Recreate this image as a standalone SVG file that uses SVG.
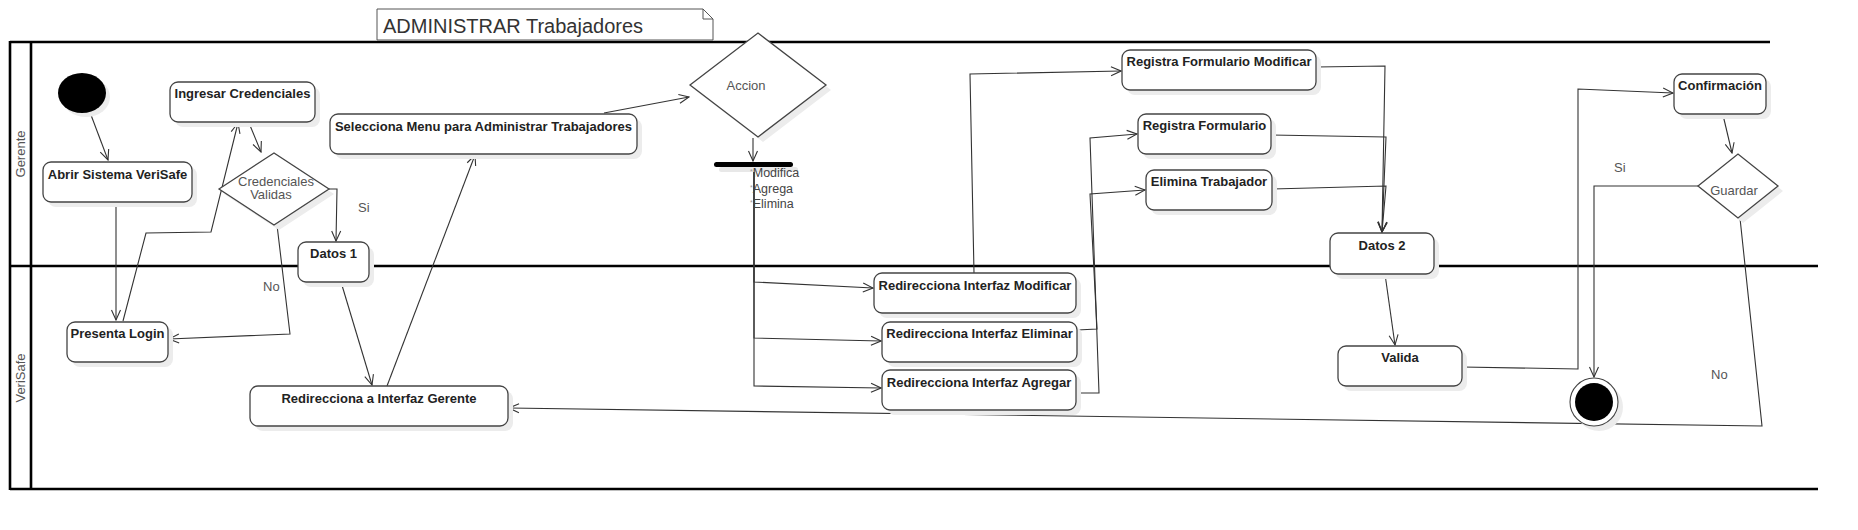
<svg xmlns="http://www.w3.org/2000/svg" width="1858" height="530" viewBox="0 0 1858 530">
<style>
.lane{stroke:#000;stroke-width:2.6;fill:none}
.box{fill:#fff;stroke:#444;stroke-width:1.3}
.sh{fill:#ececec;stroke:none}
.lbl{font-family:"Liberation Sans",Arial,sans-serif;font-size:13px;font-weight:bold;fill:#222;text-anchor:middle}
.g{font-family:"Liberation Sans",Arial,sans-serif;font-size:13px;fill:#555}
.gm{font-family:"Liberation Sans",Arial,sans-serif;font-size:13px;fill:#555;text-anchor:middle}
.c{fill:none;stroke:#333;stroke-width:1.1;marker-end:url(#ar)}
.cn{fill:none;stroke:#333;stroke-width:1.1}
</style>
<defs>
<marker id="ar" markerUnits="userSpaceOnUse" markerWidth="12" markerHeight="12" refX="11" refY="5.5" orient="auto">
<path d="M1,1 L11,5.5 L1,10" fill="none" stroke="#333" stroke-width="1.1"/>
</marker>
</defs>
<rect width="1858" height="530" fill="#fff"/>

<g id="pool">
<line class="lane" x1="10" y1="42" x2="1770" y2="42"/>
<line class="lane" x1="10" y1="266" x2="1818" y2="266"/>
<line class="lane" x1="10" y1="489" x2="1818" y2="489"/>
<line class="lane" x1="10" y1="41" x2="10" y2="490"/>
<line class="lane" x1="31" y1="41" x2="31" y2="490"/>
<text class="gm" transform="translate(25,154) rotate(-90)">Gerente</text>
<text class="gm" transform="translate(25,378) rotate(-90)">VeriSafe</text>
</g>

<g id="note">
<path d="M377,9 H703 L713,19 V40 H377 Z" fill="#fff" stroke="#555" stroke-width="1"/>
<path d="M703,9 V19 H713" fill="none" stroke="#555" stroke-width="1"/>
<text x="383" y="33" font-family="'Liberation Sans',Arial,sans-serif" font-size="20" fill="#333">ADMINISTRAR Trabajadores</text>
</g>

<g id="connectors">
<path class="c" d="M91,115 L108,160"/>
<path class="c" d="M116,202 L116,320"/>
<path class="c" d="M123,321 L146,233 L211,232 L238,123"/>
<path class="c" d="M249,123 L261,152"/>
<path class="c" d="M329,189 L337,189 L336,241"/>
<path class="c" d="M277,225 L290,334 L169,339"/>
<path class="c" d="M341,282 L372,385"/>
<path class="c" d="M387,386 L475,155"/>
<path class="c" d="M604,113 L689,97"/>
<path class="c" d="M753,138 L753,161"/>
<path class="c" d="M754,166 L754,282 L873,288"/>
<path class="c" d="M754,166 L754,338 L881,341"/>
<path class="c" d="M754,166 L754,386 L881,388"/>
<path class="c" d="M974,273 L970,74 L1121,71"/>
<path class="c" d="M1077,330 L1097,329 L1090,194 L1145,190"/>
<path class="c" d="M1077,393 L1099,393 L1090,138 L1137,134"/>
<path class="c" d="M1316,67 L1385,66 L1382,232"/>
<path class="c" d="M1271,135 L1386,137 L1382,232"/>
<path class="c" d="M1272,189 L1386,186 L1382,232"/>
<path class="c" d="M1385,274 L1395,345"/>
<path class="c" d="M1462,367 L1578,369 L1578,89 L1673,93"/>
<path class="c" d="M1723,115 L1732,153"/>
<path class="c" d="M1698,186 L1594,186 L1594,377"/>
<path class="c" d="M1740,218 L1762,426 L509,408"/>
<text class="g" x="358" y="212">Si</text>
<text class="g" x="263" y="291">No</text>
<text class="g" x="1614" y="172">Si</text>
<text class="g" x="1711" y="379">No</text>
</g>

<g id="inicio">
<ellipse cx="86" cy="97" rx="24" ry="20" class="sh"/>
<ellipse cx="82" cy="93" rx="24" ry="20" fill="#000"/>
</g>

<g id="abrir">
<rect class="sh" x="48" y="167" width="149" height="40" rx="8"/>
<rect class="box" x="43" y="162" width="149" height="40" rx="8"/>
<text class="lbl" x="117.5" y="179">Abrir Sistema VeriSafe</text>
</g>

<g id="ingresar">
<rect class="sh" x="175" y="87" width="145" height="40" rx="8"/>
<rect class="box" x="170" y="82" width="145" height="40" rx="8"/>
<text class="lbl" x="242.5" y="98">Ingresar Credenciales</text>
</g>

<g id="credenciales">
<polygon class="sh" points="224,194 279,158 334,194 279,230"/>
<polygon class="box" points="219,189 274,153 329,189 274,225"/>
<text class="gm" x="276" y="186">Credenciales</text>
<text class="gm" x="271" y="199">Validas</text>
</g>

<g id="selecciona">
<rect class="sh" x="335" y="119" width="307" height="40" rx="8"/>
<rect class="box" x="330" y="114" width="307" height="40" rx="8"/>
<text class="lbl" x="483.5" y="131">Selecciona Menu para Administrar Trabajadores</text>
</g>

<g id="datos1">
<rect class="sh" x="303" y="247" width="71" height="40" rx="8"/>
<rect class="box" x="298" y="242" width="71" height="40" rx="8"/>
<text class="lbl" x="333.5" y="258">Datos 1</text>
</g>

<g id="presenta">
<rect class="sh" x="72" y="327" width="101" height="40" rx="8"/>
<rect class="box" x="67" y="322" width="101" height="40" rx="8"/>
<text class="lbl" x="117.5" y="338">Presenta Login</text>
</g>

<g id="redirGerente">
<rect class="sh" x="255" y="391" width="258" height="40" rx="8"/>
<rect class="box" x="250" y="386" width="258" height="40" rx="8"/>
<text class="lbl" x="379" y="403">Redirecciona a Interfaz Gerente</text>
</g>

<g id="accion">
<polygon class="sh" points="695,90 763,38 831,90 763,142"/>
<polygon class="box" points="690,85 758,33 826,85 758,137"/>
<text class="gm" x="746" y="90">Accion</text>
</g>

<g id="fork">
<rect x="719" y="167" width="79" height="5" rx="2.5" fill="#e8e8e8"/>
<rect x="714" y="162" width="79" height="5" rx="2.5" fill="#000"/>
<text font-family="'Liberation Sans',Arial,sans-serif" font-size="12.5" fill="#444" x="750" y="177"><tspan font-size="7" fill="#999" dy="-3">*</tspan><tspan dy="3">Modifica</tspan></text>
<text font-family="'Liberation Sans',Arial,sans-serif" font-size="12.5" fill="#444" x="750" y="193"><tspan font-size="7" fill="#999" dy="-3">*</tspan><tspan dy="3">Agrega</tspan></text>
<text font-family="'Liberation Sans',Arial,sans-serif" font-size="12.5" fill="#444" x="750" y="208"><tspan font-size="7" fill="#999" dy="-3">*</tspan><tspan dy="3">Elimina</tspan></text>
</g>

<g id="riModificar">
<rect class="sh" x="879" y="278" width="202" height="40" rx="8"/>
<rect class="box" x="874" y="273" width="202" height="40" rx="8"/>
<text class="lbl" x="975" y="290">Redirecciona Interfaz Modificar</text>
</g>

<g id="riEliminar">
<rect class="sh" x="887" y="327" width="195" height="40" rx="8"/>
<rect class="box" x="882" y="322" width="195" height="40" rx="8"/>
<text class="lbl" x="979.5" y="338">Redirecciona Interfaz Eliminar</text>
</g>

<g id="riAgregar">
<rect class="sh" x="887" y="375" width="194" height="40" rx="8"/>
<rect class="box" x="882" y="370" width="194" height="40" rx="8"/>
<text class="lbl" x="979" y="387">Redirecciona Interfaz Agregar</text>
</g>

<g id="rfModificar">
<rect class="sh" x="1127" y="55" width="194" height="40" rx="8"/>
<rect class="box" x="1122" y="50" width="194" height="40" rx="8"/>
<text class="lbl" x="1219" y="66">Registra Formulario Modificar</text>
</g>

<g id="registraFormulario">
<rect class="sh" x="1143" y="119" width="133" height="40" rx="8"/>
<rect class="box" x="1138" y="114" width="133" height="40" rx="8"/>
<text class="lbl" x="1204.5" y="130">Registra Formulario</text>
</g>

<g id="eliminaTrabajador">
<rect class="sh" x="1151" y="175" width="126" height="40" rx="8"/>
<rect class="box" x="1146" y="170" width="126" height="40" rx="8"/>
<text class="lbl" x="1209" y="186">Elimina Trabajador</text>
</g>

<g id="datos2">
<rect class="sh" x="1335" y="238" width="104" height="41" rx="8"/>
<rect class="box" x="1330" y="233" width="104" height="41" rx="8"/>
<text class="lbl" x="1382" y="250">Datos 2</text>
</g>

<g id="valida">
<rect class="sh" x="1343" y="351" width="124" height="40" rx="8"/>
<rect class="box" x="1338" y="346" width="124" height="40" rx="8"/>
<text class="lbl" x="1400" y="362">Valida</text>
</g>

<g id="confirmacion">
<rect class="sh" x="1679" y="79" width="92" height="40" rx="8"/>
<rect class="box" x="1674" y="74" width="92" height="40" rx="8"/>
<text class="lbl" x="1720" y="90">Confirmación</text>
</g>

<g id="guardar">
<polygon class="sh" points="1703,191 1743,159 1783,191 1743,223"/>
<polygon class="box" points="1698,186 1738,154 1778,186 1738,218"/>
<text class="gm" x="1734" y="195">Guardar</text>
</g>

<g id="fin">
<circle cx="1599" cy="407" r="24" class="sh"/>
<circle cx="1594" cy="402" r="24" fill="#fff" stroke="#444" stroke-width="1.1"/>
<circle cx="1594" cy="402" r="19" fill="#000"/>
</g>
</svg>
